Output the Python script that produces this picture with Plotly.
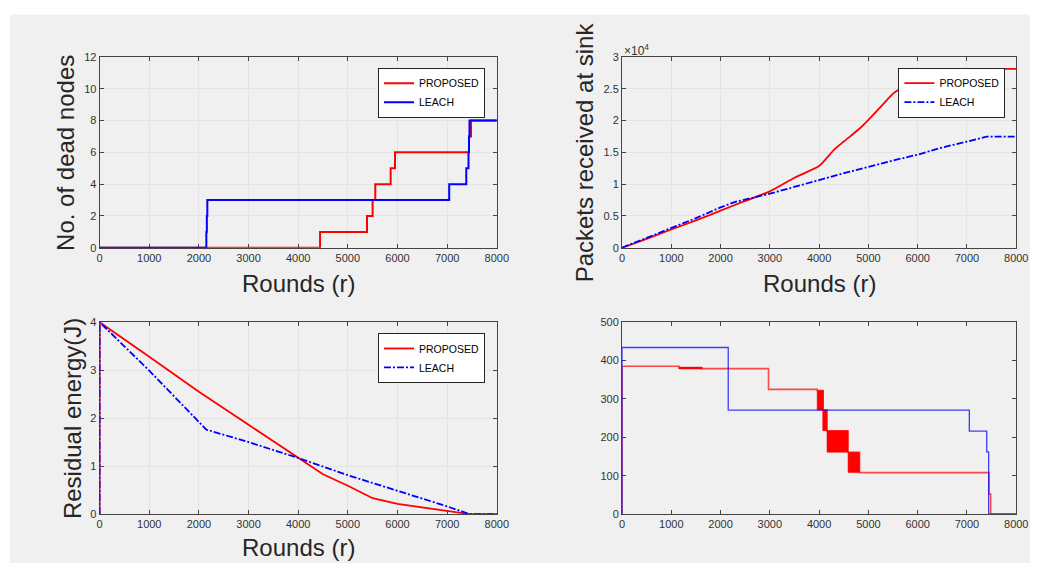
import plotly.graph_objects as go

# ---------------- data ----------------
# Panel 1: number of dead nodes (step changes)
dead_prop_rounds = [0, 4440, 5386, 5499, 5552, 5862, 5949, 7440, 7480, 8000]
dead_prop_nodes = [0, 1, 2, 3, 4, 5, 6, 7, 8, 8]
dead_leach_rounds = [0, 2150, 2160, 2170, 7041, 7385, 7430, 7440, 7450, 8000]
dead_leach_nodes = [0, 1, 2, 3, 4, 5, 6, 7, 8, 8]

# Panel 2: packets received at sink
pk_prop_rounds = [0, 500, 1000, 1500, 2000, 2500, 3000, 3500, 4000, 4100, 4300, 4500,
                  4800, 5000, 5300, 5500, 5650, 6000, 6500, 7000, 7450, 8000]
pk_prop_vals = [0, 1400, 2870, 4300, 5840, 7370, 8860, 11000, 12850, 13620, 15400, 16700,
                18590, 20120, 22580, 24220, 25040, 26600, 27500, 27950, 28110, 28110]
pk_leach_rounds = [0, 500, 1000, 1500, 2000, 2300, 3000, 3500, 4000, 4500, 5000, 5500,
                   6000, 6500, 7000, 7400, 8000]
pk_leach_vals = [0, 1550, 3120, 4660, 6350, 7220, 8500, 9630, 10650, 11730, 12750, 13720,
                 14640, 15770, 16690, 17460, 17460]
pk_ticks = [0, 5000, 10000, 15000, 20000, 25000, 30000]
pk_ticktext = ["0", "0.5", "1", "1.5", "2", "2.5", "3"]

# Panel 3: residual energy
en_prop_rounds = [0, 1, 1000, 2000, 3000, 4000, 4500, 5000, 5500, 6000, 6500, 7000, 7450, 8000]
en_prop_vals = [0, 4, 3.28, 2.55, 1.86, 1.17, 0.83, 0.59, 0.33, 0.21, 0.14, 0.075, 0, 0]
en_leach_rounds = [0, 1, 1000, 2150, 3000, 4000, 5000, 6000, 7000, 7450, 8000]
en_leach_vals = [0, 4, 2.99, 1.76, 1.5, 1.17, 0.81, 0.49, 0.16, 0, 0]

# Panel 4: step series + oscillation bands (proposed)
p4_leach_rounds = [0, 0, 2156, 7048, 7401, 7440, 8000]
p4_leach_vals = [0, 434, 271, 216, 162, 0, 0]
p4_prop_rounds = [0, 0, 1158, 1624, 2973, 3960, 4080, 4160, 4587, 4820, 7448, 7481, 8000]
p4_prop_vals = [0, 385, 381, 379, 325, 322, 271, 217, 161, 108, 52, 0, 0]
band_start = [1158, 3960, 4073, 4160, 4587]
band_end = [1624, 4087, 4160, 4587, 4820]
band_low = [378, 271, 217, 161, 108]
band_high = [383, 322, 271, 217, 161]

x_ticks = [0, 1000, 2000, 3000, 4000, 5000, 6000, 7000, 8000]

# ---------------- figure ----------------
W, H = 1045, 569
FONT = "Liberation Sans, Arial, Helvetica, sans-serif"
TXT = "#262626"
RED = "#ff0000"
BLUE = "#0000ff"
DASHDOT = "7px,2px,2px,2px"

def px_x(p):
    return p / W

def px_y(p):
    return 1 - p / H

fig = go.Figure()

# Panel 1
fig.add_trace(go.Scatter(x=dead_prop_rounds, y=dead_prop_nodes, mode="lines", line_shape="hv",
                         line=dict(color=RED, width=2), name="PROPOSED",
                         xaxis="x", yaxis="y", legend="legend"))
fig.add_trace(go.Scatter(x=dead_leach_rounds, y=dead_leach_nodes, mode="lines", line_shape="hv",
                         line=dict(color=BLUE, width=2), name="LEACH",
                         xaxis="x", yaxis="y", legend="legend"))

# Panel 2
fig.add_trace(go.Scatter(x=pk_prop_rounds, y=pk_prop_vals, mode="lines", line_shape="spline",
                         line=dict(color=RED, width=1.8, smoothing=0.6), name="PROPOSED",
                         xaxis="x2", yaxis="y2", legend="legend2"))
fig.add_trace(go.Scatter(x=pk_leach_rounds, y=pk_leach_vals, mode="lines",
                         line=dict(color=BLUE, width=1.8, dash=DASHDOT), name="LEACH",
                         xaxis="x2", yaxis="y2", legend="legend2"))

# Panel 3
fig.add_trace(go.Scatter(x=en_prop_rounds, y=en_prop_vals, mode="lines",
                         line=dict(color=RED, width=1.8), name="PROPOSED",
                         xaxis="x3", yaxis="y3", legend="legend3"))
fig.add_trace(go.Scatter(x=en_leach_rounds, y=en_leach_vals, mode="lines",
                         line=dict(color=BLUE, width=1.8, dash=DASHDOT), name="LEACH",
                         xaxis="x3", yaxis="y3", legend="legend3"))

# Panel 4
fig.add_trace(go.Scatter(x=p4_prop_rounds, y=p4_prop_vals, mode="lines", line_shape="hv",
                         line=dict(color="rgba(255,0,0,0.7)", width=1.6), showlegend=False,
                         xaxis="x4", yaxis="y4"))
bx, by = [], []
for x0, x1, lo, hi in zip(band_start, band_end, band_low, band_high):
    bx += [x0, x1, x1, x0, x0, None]
    by += [lo, lo, hi, hi, lo, None]
fig.add_trace(go.Scatter(x=bx, y=by, mode="lines", fill="toself", fillcolor=RED,
                         line=dict(color=RED, width=0.5), showlegend=False,
                         xaxis="x4", yaxis="y4"))
fig.add_trace(go.Scatter(x=p4_leach_rounds, y=p4_leach_vals, mode="lines", line_shape="hv",
                         line=dict(color="rgba(0,0,255,0.75)", width=1.3), showlegend=False,
                         xaxis="x4", yaxis="y4"))

# axes
dom_left = [px_x(98), px_x(501)]
dom_right = [px_x(628), px_x(1028)]
dom_top = [px_y(247), px_y(52)]
dom_bot = [px_y(519), px_y(323)]

def ax(domain, anchor, rng, tickvals=None, ticktext=None, dtick=None, grid=True):
    d = dict(domain=domain, anchor=anchor, range=rng, showline=True, linecolor="#444444",
             linewidth=1, mirror="ticks", ticks="inside", ticklen=4, tickcolor="#444444",
             showgrid=grid, gridcolor="#e3e3e3", gridwidth=1, zeroline=False,
             tickfont=dict(family=FONT, size=11, color="#333333"), layer="below traces",
             fixedrange=True)
    if tickvals is not None:
        d["tickmode"] = "array"
        d["tickvals"] = tickvals
        if ticktext is not None:
            d["ticktext"] = ticktext
    elif dtick is not None:
        d["tickmode"] = "linear"
        d["tick0"] = 0
        d["dtick"] = dtick
    return d

leg_common = dict(bgcolor="white", bordercolor="#262626", borderwidth=1,
                  font=dict(family=FONT, size=10.5, color="#000000"),
                  xanchor="right", yanchor="top", tracegroupgap=0, itemwidth=30)

fig.update_layout(
    width=W, height=H,
    margin=dict(l=0, r=0, t=0, b=0),
    paper_bgcolor="white", plot_bgcolor="white",
    font=dict(family=FONT, color=TXT),
    xaxis=ax(dom_left, "y", [0, 8000], tickvals=x_ticks),
    yaxis=ax(dom_top, "x", [0, 12], dtick=2),
    xaxis2=ax(dom_right, "y2", [0, 8000], tickvals=x_ticks),
    yaxis2=ax(dom_top, "x2", [0, 30000], tickvals=pk_ticks, ticktext=pk_ticktext),
    xaxis3=ax(dom_left, "y3", [0, 8000], tickvals=x_ticks),
    yaxis3=ax(dom_bot, "x3", [0, 4], dtick=1),
    xaxis4=ax(dom_right, "y4", [0, 8000], tickvals=x_ticks, grid=False),
    yaxis4=ax(dom_bot, "x4", [0, 500], dtick=100, grid=False),
    legend=dict(x=px_x(489), y=px_y(63), **leg_common),
    legend2=dict(x=px_x(1017), y=px_y(63), **leg_common),
    legend3=dict(x=px_x(489), y=px_y(334), **leg_common),
    showlegend=True,
    hovermode=False,
)

# gray figure background
fig.add_shape(type="rect", xref="paper", yref="paper", x0=px_x(7), x1=px_x(1042),
              y0=0, y1=px_y(9), fillcolor="#f0f0f0", line_width=0, layer="below")

def label(text, x, y, angle=0, size=24):
    fig.add_annotation(text=text, xref="paper", yref="paper", x=px_x(x), y=px_y(y),
                       showarrow=False, textangle=angle, xanchor="center", yanchor="middle",
                       font=dict(family=FONT, size=size, color=TXT))

label("Rounds (r)", 299.5, 283)
label("Rounds (r)", 828, 283)
label("Rounds (r)", 299.5, 553)
label("No. of dead nodes", 64, 150, angle=-90)
label("Packets received at sink", 590, 150, angle=-90)
label("Residual energy(J)", 70, 421, angle=-90)
fig.add_annotation(text="×10<sup>4</sup>", xref="paper", yref="paper", x=px_x(628), y=px_y(45),
                   showarrow=False, xanchor="left", yanchor="middle",
                   font=dict(family=FONT, size=12, color="#333333"))

css = "margin:0;padding:0;overflow:hidden;width:100%;height:100%;"
post = (
    "document.documentElement.style.cssText='%s';"
    "document.body.style.cssText='%s';"
    "var gd=document.getElementById('{plot_id}');"
    "var w=window.innerWidth||%d, h=window.innerHeight||%d;"
    "if (w>0 && h>0 && (w!==%d || h!==%d)) {Plotly.relayout(gd,{width:w,height:h});}"
) % (css, css, W, H, W, H)
fig.write_html(
    "out.html",
    config={"displayModeBar": False, "responsive": False},
    post_script=post,
)
